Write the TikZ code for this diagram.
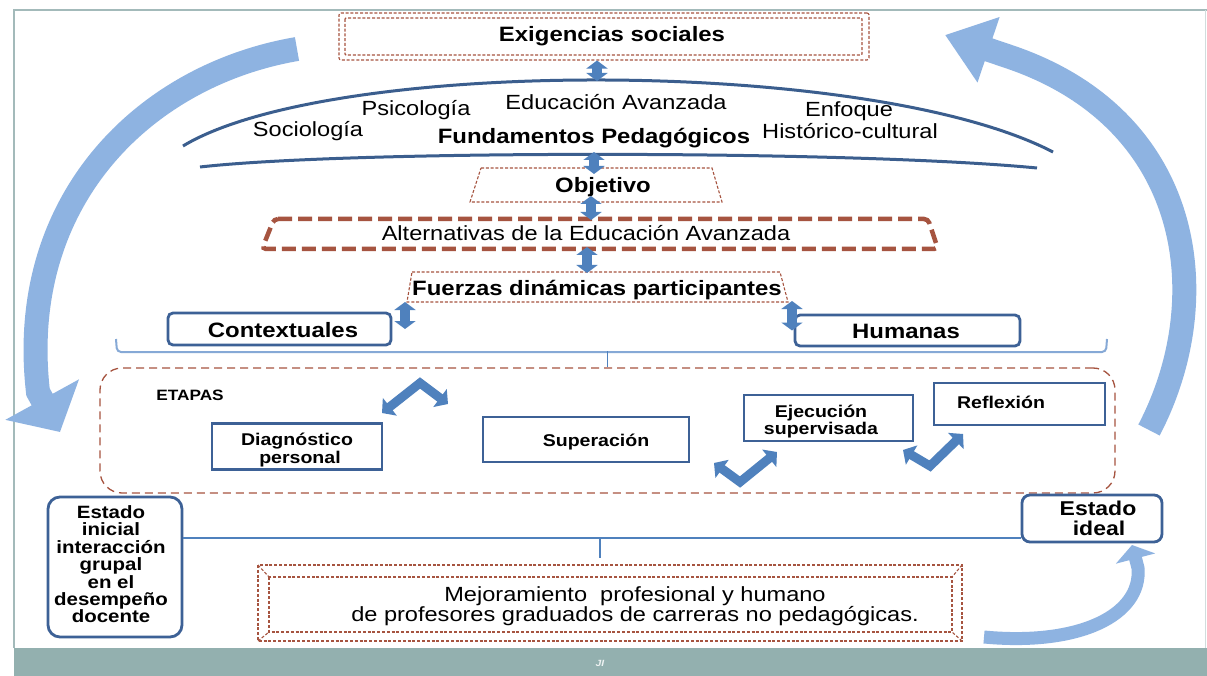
\documentclass[tikz,border=0pt]{standalone}
\usepackage{fontspec}
\setmainfont{Liberation Sans}[FakeStretch=1.15]
\usetikzlibrary{arrows.meta}
\definecolor{cbrn}{HTML}{A65440}
\definecolor{cbxb}{HTML}{3D6196}
\definecolor{carb}{HTML}{4F81BD}
\definecolor{carc}{HTML}{3B5E8E}
\definecolor{clb}{HTML}{8EB3E1}
\definecolor{cbrc}{HTML}{86A9D6}
\definecolor{cband}{HTML}{93B0AF}
\definecolor{cfrm}{HTML}{A3BABA}
\newcommand{\fsz}[2]{\fontsize{#1}{#2}\selectfont}
\begin{document}
\begin{tikzpicture}[x=1pt,y=-1pt,
  thindash/.style={draw=cbrn,line width=1.1pt,dash pattern=on 3pt off 1.8pt},
  etdash/.style={draw=cbrn,line width=1.3pt,dash pattern=on 8pt off 5pt},
  thickdash/.style={draw=cbrn,line width=4.5pt,dash pattern=on 14pt off 6pt},
  bluebox/.style={draw=cbxb,line width=2.8pt,fill=white,inner sep=0pt},
  bigtxt/.style={font=\fsz{20.8}{22}\bfseries,inner sep=0pt,anchor=base},
  regtxt/.style={font=\fsz{20.5}{22},inner sep=0pt,anchor=base},
  stgtxt/.style={font=\fsz{17}{18}\bfseries,inner sep=0pt,anchor=base},
  esttxt/.style={font=\fsz{17.8}{18}\bfseries,inner sep=0pt,anchor=base},
  dbl/.style={draw=carb,line width=10pt,{Triangle[length=8pt,width=21pt]}-{Triangle[length=8pt,width=21pt]}},
  zig/.style={draw=carb,line width=9pt,line join=miter,{Triangle[length=10pt,width=22pt]}-{Triangle[length=10pt,width=22pt]}},
  arcline/.style={draw=carc,line width=3pt},
  bracel/.style={draw=cbrc,line width=2pt,rounded corners=4pt}
]
\useasboundingbox (0,0) rectangle (1207,676);
\fill[white] (0,0) rectangle (1207,676);
% frame and band
\draw[cfrm,line width=1.6pt] (14,648) -- (14,10) -- (1207,10);
\draw[cfrm!50,line width=1pt] (1205,10) -- (1205,648);
\fill[cband] (14,648) rectangle (1207,676);
\node[font=\fsz{9}{10}\bfseries\itshape,text=white!85!cband,inner sep=0pt] (pg) at (600,663) {JI};

% big curved arrows
\draw[draw=clb,line width=24pt,-{Triangle[length=37pt,width=82pt]}] (297,49) .. controls (145,75) and (16,200) .. (38,392) -- (60,432);
\draw[draw=clb,line width=24pt,-{Triangle[length=46pt,width=66pt]}] (1149,430) .. controls (1217,300) and (1195,120) .. (1010,57) -- (945,35);
\draw[draw=clb,line width=13pt,-{Triangle[length=14pt,width=40pt]}] (984,637) .. controls (1080,646) and (1142,615) .. (1138,568) -- (1132,545);

% Exigencias sociales
\node[thindash,rounded corners=2pt,minimum width=530pt,minimum height=47pt,inner sep=0pt] (exig) at (604,36.5) {};
\draw[thindash,rounded corners=1pt] (345,18) rectangle (862,55);
\node[bigtxt] (exigT) at (612,42) {Exigencias sociales};

% Fundamentos arcs
\draw[arcline] (183,146) .. controls (330,57) and (870,57) .. (1053,152);
\draw[arcline] (200,167) .. controls (350,150) and (850,150) .. (1037,168);
\coordinate (arcTop) at (597,81);
\coordinate (arcBot) at (594,152);
\node[regtxt] (soc) at (308,137) {Sociología};
\node[regtxt] (psi) at (416,116) {Psicología};
\node[regtxt] (edu) at (616,110) {Educación Avanzada};
\node[regtxt] (enf) at (849,117) {Enfoque};
\node[regtxt] (his) at (850,139) {Histórico-cultural};
\node[bigtxt] (fund) at (594,144) {Fundamentos Pedagógicos};

% Objetivo
\draw[thindash] (481,168) -- (712,168) -- (722,202) -- (470,202) -- cycle;
\node[bigtxt] (obj) at (603,193) {Objetivo};
\coordinate (objTop) at (594,174);
\coordinate (objBot) at (591,196);

% Alternativas
\draw[thickdash,rounded corners=4pt] (274,219) -- (928,219) -- (938,249) -- (262,249) -- cycle;
\node[regtxt] (alt) at (586,241) {Alternativas de la Educación Avanzada};
\coordinate (altTop) at (591,220);
\coordinate (altBot) at (587,247);

% Fuerzas
\draw[thindash] (412,272) -- (780,272) -- (788,302) -- (407,302) -- cycle;
\node[bigtxt] (fuer) at (597,295) {Fuerzas dinámicas participantes};
\coordinate (fuerTop) at (587,273);
\coordinate (fuerL) at (405,302);
\coordinate (fuerR) at (792,301);

% Contextuales / Humanas
\node[bluebox,rounded corners=5pt,minimum width=223pt,minimum height=32pt] (cont) at (279.5,329) {};
\node[bigtxt] (contT) at (283,337) {Contextuales};
\node[bluebox,rounded corners=5pt,minimum width=225pt,minimum height=31pt] (hum) at (907.5,330.5) {};
\node[bigtxt] (humT) at (906,338) {Humanas};

% arrows between the levels
\draw[dbl] (exig.south -| arcTop) -- (arcTop);
\draw[dbl] (arcBot) -- (objTop);
\draw[dbl] (objBot) -- (altTop);
\draw[dbl] (altBot) -- (fuerTop);
\draw[dbl] (fuerL) -- (fuerL |- cont.center);
\draw[dbl] (fuerR) -- (fuerR |- hum.center);

% Etapas
\node[etdash,rounded corners=22pt,minimum width=1015pt,minimum height=125pt,inner sep=0pt] (etapas) at (607.5,430.5) {};
\draw[bracel] (116,339) -- (117,352) -- (1106,352) -- (1107,339);
\draw[draw=carb,line width=1.5pt] (etapas.north) -- ++(0,-16);
\node[font=\fsz{15}{16}\bfseries,inner sep=0pt,anchor=base] (etT) at (190,400) {ETAPAS};

\node[bluebox,minimum width=170pt,minimum height=46pt] (diag) at (297,446.5) {};
\node[stgtxt] (diag1) at (297,445) {Diagnóstico};
\node[stgtxt] (diag2) at (300,463) {personal};
\node[bluebox,minimum width=206pt,minimum height=45pt] (sup) at (586,439.5) {};
\node[stgtxt] (supT) at (596,446) {Superación};
\node[bluebox,minimum width=169pt,minimum height=46pt] (eje) at (828.5,418) {};
\node[stgtxt] (eje1) at (821,417) {Ejecución};
\node[stgtxt] (eje2) at (821,434) {supervisada};
\node[bluebox,minimum width=171pt,minimum height=42pt] (ref) at (1019.5,404) {};
\node[stgtxt] (refT) at (1001,408) {Reflexión};

% zigzag double arrows
\coordinate (zaL) at (382,413); \coordinate (zaM) at (420,383); \coordinate (zaR) at (448,404);
\draw[zig] (zaL) -- (zaM) -- (zaR);
\coordinate (zbL) at (714,463); \coordinate (zbM) at (740,482); \coordinate (zbR) at (777,452);
\draw[zig] (zbL) -- (zbM) -- (zbR);
\coordinate (zcL) at (903,450); \coordinate (zcM) at (930,466); \coordinate (zcR) at (963,434);
\draw[zig] (zcL) -- (zcM) -- (zcR);

% Estado inicial / ideal
\node[bluebox,rounded corners=12pt,minimum width=134pt,minimum height=140pt] (einit) at (115,567) {};
\node[esttxt] (ei1) at (111,518) {Estado};
\node[esttxt] (ei2) at (111,535.5) {inicial};
\node[esttxt] (ei3) at (111,553) {interacción};
\node[esttxt] (ei4) at (111,570.5) {grupal};
\node[esttxt] (ei5) at (111,588) {en el};
\node[esttxt] (ei6) at (111,605) {desempeño};
\node[esttxt] (ei7) at (111,622) {docente};
\node[bluebox,rounded corners=8pt,minimum width=140pt,minimum height=47pt] (eideal) at (1092,518.5) {};
\node[font=\fsz{20}{22}\bfseries,inner sep=0pt,anchor=base] (eid1) at (1098,515) {Estado};
\node[font=\fsz{20}{22}\bfseries,inner sep=0pt,anchor=base] (eid2) at (1099,535) {ideal};

\coordinate (hl) at (600,538);
\draw[draw=carb,line width=2.8pt] (einit.east |- hl) -- (hl -| eideal.west);
\draw[draw=carb,line width=2.8pt] (hl) -- ++(0,20);

% Mejoramiento
\draw[thindash] (258,565) rectangle (962,641);
\draw[thindash] (269,577) rectangle (952,632);
\draw[thindash] (258,565) -- (269,577) (962,565) -- (952,577) (962,641) -- (952,632) (258,641) -- (269,632);
\node[regtxt] (mej1) at (635,601) {Mejoramiento\ \ profesional y humano};
\node[regtxt] (mej2) at (635,621) {de profesores graduados de carreras no pedagógicas.};
\end{tikzpicture}
\end{document}
